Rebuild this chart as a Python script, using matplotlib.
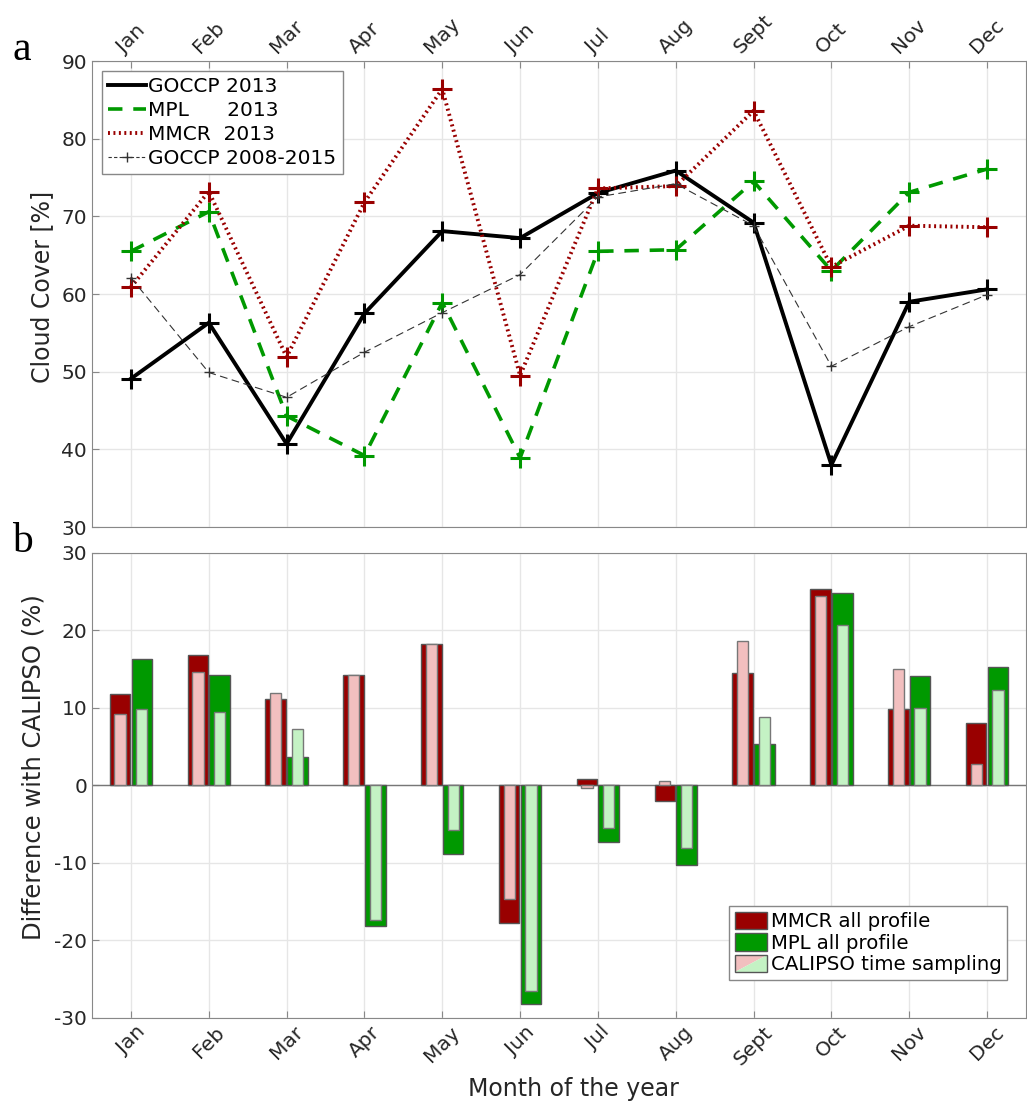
import matplotlib
matplotlib.use('Agg')
import matplotlib.pyplot as plt
import numpy as np
from matplotlib.legend_handler import HandlerBase
from matplotlib.patches import Polygon, Patch
from matplotlib.lines import Line2D

months = ['Jan', 'Feb', 'Mar', 'Apr', 'May', 'Jun', 'Jul', 'Aug', 'Sept', 'Oct', 'Nov', 'Dec']

# panel a: monthly cloud cover (%)
goccp_2013 = [49.1, 56.3, 40.7, 57.5, 68.1, 67.2, 73.0, 75.9, 69.2, 38.0, 59.0, 60.6]
mpl_2013 = [65.5, 70.6, 44.3, 39.2, 58.9, 38.9, 65.5, 65.7, 74.5, 63.0, 73.1, 76.1]
mmcr_2013 = [60.9, 73.2, 51.9, 71.8, 86.4, 49.5, 73.6, 73.9, 83.6, 63.5, 68.8, 68.6]
goccp_clim = [62.1, 49.9, 46.7, 52.5, 57.6, 62.5, 72.5, 74.2, 68.8, 50.7, 55.8, 59.9]

# panel b: difference with CALIPSO (%)
mmcr_all = [11.8, 16.8, 11.2, 14.3, 18.3, -17.8, 0.9, -2.0, 14.5, 25.3, 9.9, 8.0]
mmcr_cal = [9.2, 14.6, 11.9, 14.2, 18.2, -14.6, -0.35, 0.6, 18.6, 24.4, 15.0, 2.8]
mpl_all = [16.3, 14.3, 3.7, -18.1, -8.9, -28.2, -7.3, -10.2, 5.4, 24.9, 14.1, 15.3]
mpl_cal = [9.9, 9.5, 7.3, -17.3, -5.7, -26.5, -5.5, -8.1, 8.8, 20.7, 10.0, 12.3]

dark_red = '#990000'
green = '#009900'
pink = '#f2bfbf'
light_green = '#c4f2c4'
edge = '#555555'

plt.rcParams['font.family'] = 'DejaVu Sans'
plt.rcParams['axes.unicode_minus'] = False
x = np.arange(1, 13)

fig = plt.figure(figsize=(10.27, 11.06), dpi=100)
ax1 = fig.add_axes([0.0896, 0.5235, 0.9094, 0.4213])
ax2 = fig.add_axes([0.0896, 0.0796, 0.9094, 0.4204])


class SplitHandler(HandlerBase):
    def create_artists(self, legend, orig_handle, xdescent, ydescent, width, height, fontsize, trans):
        x0, y0 = -xdescent, -ydescent
        p1 = Polygon([[x0, y0], [x0, y0 + height], [x0 + width, y0 + height]], closed=True,
                     facecolor=pink, edgecolor='none', transform=trans)
        p2 = Polygon([[x0, y0], [x0 + width, y0], [x0 + width, y0 + height]], closed=True,
                     facecolor=light_green, edgecolor='none', transform=trans)
        box = Polygon([[x0, y0], [x0 + width, y0], [x0 + width, y0 + height], [x0, y0 + height]],
                      closed=True, facecolor='none', edgecolor=edge, lw=1, transform=trans)
        return [p1, p2, box]


class SplitPatch:
    pass


for ax in (ax1, ax2):
    ax.set_xlim(0.5, 12.5)
    ax.set_xticks(x)
    ax.grid(True, color='#e6e6e6', lw=1)
    ax.set_axisbelow(True)
    for s in ax.spines.values():
        s.set_color('#888888')
    ax.tick_params(direction='in', length=5, color='#888888', labelsize=14.5, labelcolor='#262626')

# ---- panel a
red_ls = (0, (0.5, 0.9))
ax1.plot(x, goccp_2013, color='black', lw=2.8, marker='+', ms=15, mew=2.2)
ax1.plot(x, mpl_2013, color=green, lw=2.6, ls=(0, (4, 3)), marker='+', ms=15, mew=2.2)
ax1.plot(x, mmcr_2013, color=dark_red, lw=2.8, ls=red_ls, marker='+', ms=15, mew=2.2)
ax1.plot(x, goccp_clim, color='#333333', lw=0.8, ls=(0, (7, 4)), marker='+', ms=7, mew=1)
ax1.set_ylim(30, 90)
ax1.set_yticks(np.arange(30, 91, 10))
ax1.xaxis.tick_top()
ax1.set_xticklabels(months, rotation=45, ha='center', va='bottom')
ax1.tick_params(axis='x', pad=3)
ax1.set_ylabel('Cloud Cover [%]', fontsize=17, color='#262626')
ax1.yaxis.set_label_coords(-0.041, 0.515)

h1 = [Line2D([], [], color='black', lw=2.8),
      Line2D([], [], color=green, lw=2.6, ls=(0, (4, 3))),
      Line2D([], [], color=dark_red, lw=2.8, ls=red_ls),
      Line2D([], [], color='#333333', lw=0.8, ls=(0, (3, 2)), marker='+', ms=7, mew=1)]
leg1 = ax1.legend(h1, ['GOCCP 2013', 'MPL      2013', 'MMCR  2013', 'GOCCP 2008-2015'],
                  loc='upper left', fontsize=14.5, handlelength=1.9, handletextpad=0.1,
                  borderpad=0.3, labelspacing=0.25, fancybox=False, framealpha=1,
                  edgecolor='#888888', borderaxespad=0.5)
leg1.get_frame().set_linewidth(1)

# ---- panel b
w_out = 0.265
w_in = 0.145
off = 0.14
ax2.bar(x - off, mmcr_all, w_out, color=dark_red, edgecolor=edge, lw=1, zorder=2)
ax2.bar(x - off, mmcr_cal, w_in, color=pink, edgecolor='#777777', lw=1, zorder=3)
ax2.bar(x + off, mpl_all, w_out, color=green, edgecolor=edge, lw=1, zorder=2)
ax2.bar(x + off, mpl_cal, w_in, color=light_green, edgecolor='#777777', lw=1, zorder=3)
ax2.axhline(0, color='#777777', lw=1, zorder=1)
ax2.set_ylim(-30, 30)
ax2.set_yticks(np.arange(-30, 31, 10))
ax2.set_xticklabels(months, rotation=45, ha='center', va='top')
ax2.set_ylabel('Difference with CALIPSO (%)', fontsize=17.5, color='#262626')
ax2.yaxis.set_label_coords(-0.05, 0.54)
ax2.set_xlabel('Month of the year', fontsize=17, color='#262626')
ax2.xaxis.set_label_coords(0.515, -0.128)

handles = [Patch(facecolor=dark_red, edgecolor=edge), Patch(facecolor=green, edgecolor=edge),
           SplitPatch()]
leg2 = ax2.legend(handles, ['MMCR all profile', 'MPL all profile', 'CALIPSO time sampling'],
                  handler_map={SplitPatch: SplitHandler()}, loc='lower right', fontsize=14.2,
                  handlelength=1.6, handleheight=1.0, handletextpad=0.2, borderpad=0.3,
                  labelspacing=0.1, fancybox=False, framealpha=1, edgecolor='#888888',
                  bbox_to_anchor=(0.9905, 0.06))
leg2.get_frame().set_linewidth(1)

fig.text(0.012, 0.955, 'a', fontsize=30, family='Liberation Serif', va='center')
fig.text(0.012, 0.51, 'b', fontsize=30, family='Liberation Serif', va='center')

fig.savefig('out.png', dpi=100)
